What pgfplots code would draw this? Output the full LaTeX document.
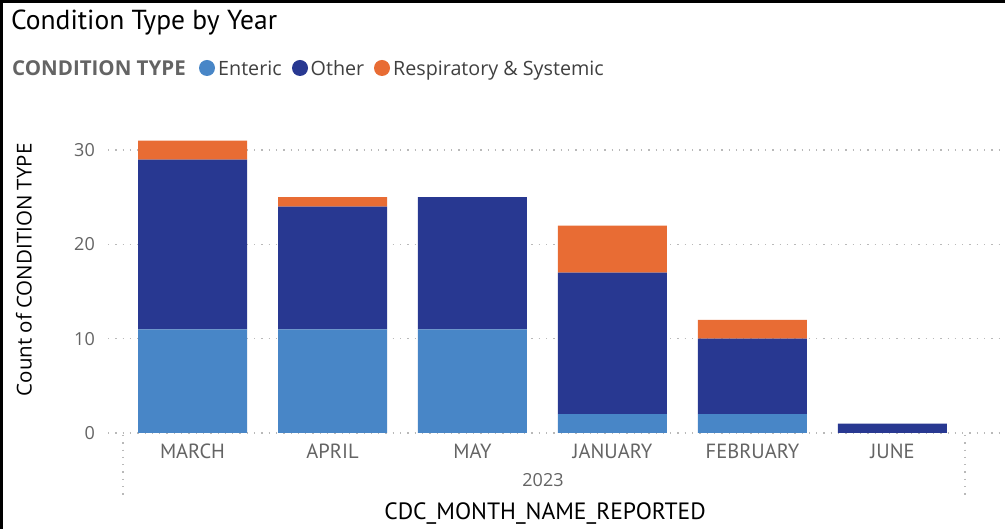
\documentclass[border=0pt]{standalone}
\usepackage{pgfplots}
\pgfplotsset{compat=1.18}
\usepackage{fontspec}
\setmainfont{Open Sans}
\newfontfamily\din{PT Sans}
\definecolor{enteric}{RGB}{72,134,199}
\definecolor{other}{RGB}{40,56,145}
\definecolor{resp}{RGB}{232,108,52}
\definecolor{tickgray}{RGB}{100,100,100}
\definecolor{gridgray}{RGB}{185,185,185}
\begin{document}
\begin{tikzpicture}
\useasboundingbox (0,0) rectangle (1005bp,529bp);
\fill[white] (0,0) rectangle (1005bp,529bp);
\draw[line width=3bp] (1.5bp,0) -- (1.5bp,527.5bp) -- (1005bp,527.5bp);
% title and legend
\node[anchor=base west, inner sep=0, font=\din\fontsize{27.5bp}{30bp}\selectfont] at (11bp,499bp) {Condition Type by Year};
\node[anchor=base west, inner sep=0, text=tickgray, font=\fontsize{20.5bp}{23bp}\selectfont\bfseries] at (12bp,453bp) {CONDITION TYPE};
\fill[enteric] (207bp,461bp) circle (8bp);
\node[anchor=base west, inner sep=0, text=black!75, font=\fontsize{19.7bp}{23bp}\selectfont] at (218bp,453bp) {Enteric};
\fill[other] (300bp,461bp) circle (8bp);
\node[anchor=base west, inner sep=0, text=black!75, font=\fontsize{19.7bp}{23bp}\selectfont] at (310.5bp,453bp) {Other};
\fill[resp] (382bp,461bp) circle (8bp);
\node[anchor=base west, inner sep=0, text=black!75, font=\fontsize{19.7bp}{23bp}\selectfont] at (393bp,453bp) {Respiratory \& Systemic};
% x grouping frame
\draw[gridgray, line width=1.3bp, dash pattern=on 1.3bp off 6bp] (123bp,94bp) -- (123bp,32bp);
\draw[gridgray, line width=1.3bp, dash pattern=on 1.3bp off 6bp] (965bp,94bp) -- (965bp,32bp);
\node[text=tickgray, font=\fontsize{18bp}{20bp}\selectfont] at (543bp,49bp) {2023};
\node[font=\din\fontsize{23.6bp}{26bp}\selectfont] at (545bp,15bp) {CDC\_MONTH\_NAME\_REPORTED};
\begin{axis}[
  at={(108bp,96bp)}, anchor=south west,
  scale only axis, width=892bp, height=311.2bp,
  xmin=-0.6036, xmax=5.768, ymin=0, ymax=33,
  ybar stacked, bar width=109bp,
  axis line style={draw=none},
  major tick length=0pt,
  xtick={0,1,2,3,4,5},
  xticklabels={MARCH,APRIL,MAY,JANUARY,FEBRUARY,JUNE},
  ytick={0,10,20,30},
  ymajorgrids,
  grid style={gridgray, line width=1.3bp, dash pattern=on 1.3bp off 6bp},
  xticklabel style={anchor=center, yshift=-18bp, text=tickgray, font=\din\fontsize{20.5bp}{23bp}\selectfont},
  yticklabel style={anchor=east, inner sep=0pt, xshift=-13bp, text=tickgray, font=\fontsize{18bp}{20bp}\selectfont},
  /pgf/number format/assume math mode=true,
  ylabel={Count of CONDITION TYPE},
  every axis y label/.style={at={(axis description cs:-0.0942,0.524)}, rotate=90, anchor=center, font=\fontsize{20.5bp}{23bp}\selectfont},
]
\addplot[fill=enteric, draw=none] coordinates {(0,11) (1,11) (2,11) (3,2) (4,2) (5,0)};
\addplot[fill=other, draw=none] coordinates {(0,18) (1,13) (2,14) (3,15) (4,8) (5,1)};
\addplot[fill=resp, draw=none] coordinates {(0,2) (1,1) (2,0) (3,5) (4,2) (5,0)};
\end{axis}
\end{tikzpicture}
\end{document}
